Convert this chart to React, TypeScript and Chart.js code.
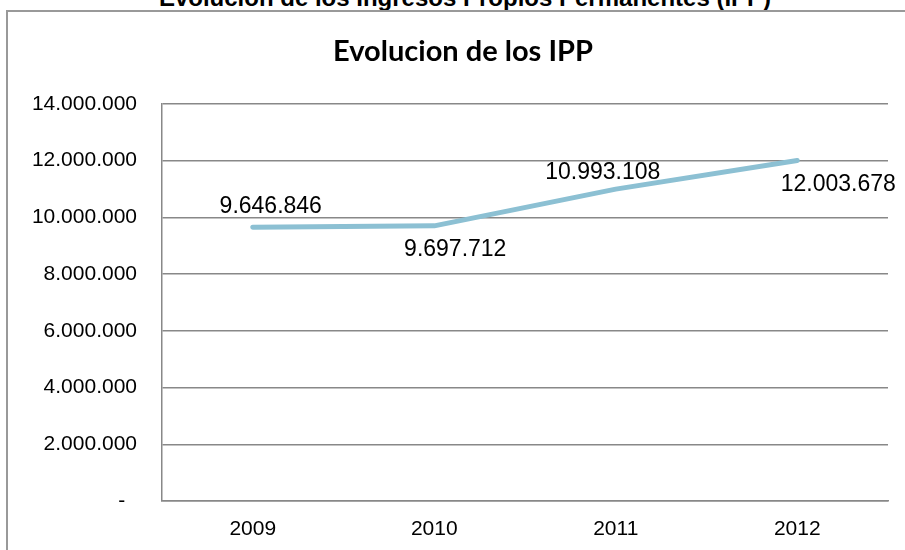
import React, { useEffect, useRef } from "react";
import { Chart, registerables } from "chart.js";

Chart.register(...registerables);

const categories = ["2009", "2010", "2011", "2012"];
const ippValues = [9646846, 9697712, 10993108, 12003678];
const dataLabels = ["9.646.846", "9.697.712", "10.993.108", "12.003.678"];
const yTickValues = [0, 2000000, 4000000, 6000000, 8000000, 10000000, 12000000, 14000000];
const yTickLabels = ["-  ", "2.000.000", "4.000.000", "6.000.000", "8.000.000", "10.000.000", "12.000.000", "14.000.000"];

const outerTitle = "Evolución de los Ingresos Propios Permanentes (IPP)";
const chartTitle = "Evolucion de los IPP";

// label placement relative to each point (style)
const labelOffsets = [
  [18, -21],
  [21, 24],
  [-13, -16],
  [41, 24],
];

const FONT = "'Liberation Sans', Arial, sans-serif";

const dataLabelPlugin = {
  id: "dataLabelPlugin",
  afterDatasetsDraw(chart: any) {
    const ctx = chart.ctx;
    const meta = chart.getDatasetMeta(0);
    ctx.save();
    ctx.font = `23px ${FONT}`;
    ctx.fillStyle = "#000";
    ctx.textAlign = "center";
    ctx.textBaseline = "middle";
    meta.data.forEach((pt: any, i: number) => {
      const [dx, dy] = labelOffsets[i];
      ctx.fillText(dataLabels[i], pt.x + dx, pt.y + dy);
    });
    ctx.restore();
  },
};

// shift the title box so it centres like the original
const titleShiftPlugin = {
  id: "titleShiftPlugin",
  afterLayout(chart: any) {
    if (chart.titleBlock) {
      chart.titleBlock.left += 38;
    }
  },
};

export default function App() {
  const ref = useRef<HTMLCanvasElement>(null);
  useEffect(() => {
    if (!ref.current) return;
    const chart = new Chart(ref.current, {
      type: "line",
      data: {
        labels: categories,
        datasets: [
          {
            label: "IPP",
            data: ippValues,
            borderColor: "#8cc0d3",
            borderWidth: 5,
            borderCapStyle: "round",
            borderJoinStyle: "round",
            pointRadius: 0,
            tension: 0,
            fill: false,
          },
        ],
      },
      options: {
        animation: false,
        responsive: false,
        events: [],
        layout: { padding: { top: 34, left: 0, right: 17, bottom: 0 } },
        plugins: {
          legend: { display: false },
          tooltip: { enabled: false },
          title: {
            display: true,
            text: chartTitle,
            color: "#000",
            font: { family: "Lato, 'Noto Sans', sans-serif", size: 29, weight: "bold" },
            padding: { top: 0, bottom: 35 },
          },
        },
        scales: {
          x: {
            type: "category",
            offset: true,
            afterFit(scale: any) {
              scale.height = 49;
            },
            grid: { display: false, drawTicks: false },
            border: { display: true, color: "#888", width: 1.5 },
            ticks: { color: "#000", font: { family: FONT, size: 21 }, padding: 16 },
          },
          y: {
            min: 0,
            max: 14000000,
            afterFit(scale: any) {
              scale.width = 162;
            },
            afterBuildTicks(scale: any) {
              scale.ticks = yTickValues.map((v) => ({ value: v }));
            },
            grid: { color: "#888", lineWidth: 1.5, drawTicks: false },
            border: { display: true, color: "#888", width: 1.5 },
            ticks: {
              color: "#000",
              font: { family: FONT, size: 21 },
              padding: 25,
              callback: (v: any) => {
                const idx = yTickValues.indexOf(Number(v));
                return idx >= 0 ? yTickLabels[idx] : "";
              },
            },
          },
        },
      },
      plugins: [dataLabelPlugin, titleShiftPlugin],
    });
    return () => chart.destroy();
  }, []);

  return (
    <div style={{ position: "fixed", left: 0, top: 0, width: 905, height: 550, overflow: "hidden", background: "#fff" }}>
      <div
        style={{
          position: "absolute",
          left: 0,
          width: 930,
          top: -13.8,
          textAlign: "center",
          font: `bold 24px ${FONT}`,
          lineHeight: "24px",
          color: "#000",
          whiteSpace: "nowrap",
        }}
      >
        {outerTitle}
      </div>
      <div
        style={{
          position: "absolute",
          left: 6,
          top: 10,
          width: 1000,
          height: 1000,
          border: "2px solid #999",
        }}
      />
      <canvas ref={ref} width={905} height={550} style={{ position: "absolute", left: 0, top: 0 }} />
    </div>
  );
}
